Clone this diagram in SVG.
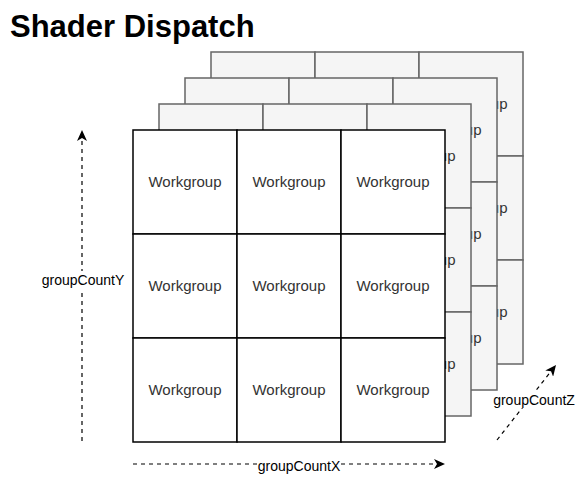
<svg xmlns="http://www.w3.org/2000/svg" width="577" height="503" viewBox="0 0 577 503">
  <style>
    .title { font-family: "Liberation Sans", Arial, sans-serif; font-size: 31px; font-weight: bold; fill: #000000; }
    .back rect { fill: #f5f5f5; stroke: #666666; stroke-width: 1.5; }
    .front rect { fill: #ffffff; stroke: #000000; stroke-width: 1.5; }
    .cell-label { font-family: "Liberation Sans", Arial, sans-serif; font-size: 15px; text-anchor: middle; fill: #333333; }
    .axis { fill: none; stroke: #000000; stroke-width: 1.2; stroke-dasharray: 4 4; }
    .axis-label { font-family: "Liberation Sans", Arial, sans-serif; font-size: 14px; fill: #000000; text-anchor: middle; }
    .label-bg { fill: #ffffff; }
  </style>
  <defs>
    <marker id="arrow" markerUnits="userSpaceOnUse" markerWidth="12" markerHeight="10" refX="11" refY="5" orient="auto">
      <path d="M0,0 L11,5 L0,10 L3,5 Z" fill="#000000"/>
    </marker>
  </defs>

  <text class="title" x="10" y="37">Shader Dispatch</text>

  <!-- stacked 3x3 sheets of 104px workgroups, drawn back to front -->
  <g id="layer-z3" class="back">
    <rect x="211" y="52" width="104" height="104"/>
    <rect x="315" y="52" width="104" height="104"/>
    <rect x="419" y="52" width="104" height="104"/>
    <rect x="211" y="156" width="104" height="104"/>
    <rect x="315" y="156" width="104" height="104"/>
    <rect x="419" y="156" width="104" height="104"/>
    <rect x="211" y="260" width="104" height="104"/>
    <rect x="315" y="260" width="104" height="104"/>
    <rect x="419" y="260" width="104" height="104"/>
    <text class="cell-label" x="263" y="109">Workgroup</text>
    <text class="cell-label" x="367" y="109">Workgroup</text>
    <text class="cell-label" x="471" y="109">Workgroup</text>
    <text class="cell-label" x="263" y="213">Workgroup</text>
    <text class="cell-label" x="367" y="213">Workgroup</text>
    <text class="cell-label" x="471" y="213">Workgroup</text>
    <text class="cell-label" x="263" y="317">Workgroup</text>
    <text class="cell-label" x="367" y="317">Workgroup</text>
    <text class="cell-label" x="471" y="317">Workgroup</text>
  </g>
  <g id="layer-z2" class="back">
    <rect x="185" y="78" width="104" height="104"/>
    <rect x="289" y="78" width="104" height="104"/>
    <rect x="393" y="78" width="104" height="104"/>
    <rect x="185" y="182" width="104" height="104"/>
    <rect x="289" y="182" width="104" height="104"/>
    <rect x="393" y="182" width="104" height="104"/>
    <rect x="185" y="286" width="104" height="104"/>
    <rect x="289" y="286" width="104" height="104"/>
    <rect x="393" y="286" width="104" height="104"/>
    <text class="cell-label" x="237" y="135">Workgroup</text>
    <text class="cell-label" x="341" y="135">Workgroup</text>
    <text class="cell-label" x="445" y="135">Workgroup</text>
    <text class="cell-label" x="237" y="239">Workgroup</text>
    <text class="cell-label" x="341" y="239">Workgroup</text>
    <text class="cell-label" x="445" y="239">Workgroup</text>
    <text class="cell-label" x="237" y="343">Workgroup</text>
    <text class="cell-label" x="341" y="343">Workgroup</text>
    <text class="cell-label" x="445" y="343">Workgroup</text>
  </g>
  <g id="layer-z1" class="back">
    <rect x="159" y="104" width="104" height="104"/>
    <rect x="263" y="104" width="104" height="104"/>
    <rect x="367" y="104" width="104" height="104"/>
    <rect x="159" y="208" width="104" height="104"/>
    <rect x="263" y="208" width="104" height="104"/>
    <rect x="367" y="208" width="104" height="104"/>
    <rect x="159" y="312" width="104" height="104"/>
    <rect x="263" y="312" width="104" height="104"/>
    <rect x="367" y="312" width="104" height="104"/>
    <text class="cell-label" x="211" y="161">Workgroup</text>
    <text class="cell-label" x="315" y="161">Workgroup</text>
    <text class="cell-label" x="419" y="161">Workgroup</text>
    <text class="cell-label" x="211" y="265">Workgroup</text>
    <text class="cell-label" x="315" y="265">Workgroup</text>
    <text class="cell-label" x="419" y="265">Workgroup</text>
    <text class="cell-label" x="211" y="369">Workgroup</text>
    <text class="cell-label" x="315" y="369">Workgroup</text>
    <text class="cell-label" x="419" y="369">Workgroup</text>
  </g>
  <g id="layer-z0" class="front">
    <rect x="133" y="130" width="104" height="104"/>
    <rect x="237" y="130" width="104" height="104"/>
    <rect x="341" y="130" width="104" height="104"/>
    <rect x="133" y="234" width="104" height="104"/>
    <rect x="237" y="234" width="104" height="104"/>
    <rect x="341" y="234" width="104" height="104"/>
    <rect x="133" y="338" width="104" height="104"/>
    <rect x="237" y="338" width="104" height="104"/>
    <rect x="341" y="338" width="104" height="104"/>
    <text class="cell-label" x="185" y="187">Workgroup</text>
    <text class="cell-label" x="289" y="187">Workgroup</text>
    <text class="cell-label" x="393" y="187">Workgroup</text>
    <text class="cell-label" x="185" y="291">Workgroup</text>
    <text class="cell-label" x="289" y="291">Workgroup</text>
    <text class="cell-label" x="393" y="291">Workgroup</text>
    <text class="cell-label" x="185" y="395">Workgroup</text>
    <text class="cell-label" x="289" y="395">Workgroup</text>
    <text class="cell-label" x="393" y="395">Workgroup</text>
  </g>

  <!-- dispatch axes -->
  <g id="connectors">
    <g id="axis-y">
      <line class="axis" x1="82" y1="441" x2="82" y2="130" marker-end="url(#arrow)"/>
      <rect class="label-bg" x="42" y="271" width="82" height="18"/>
      <text class="axis-label" x="83" y="285">groupCountY</text>
    </g>
    <g id="axis-x">
      <line class="axis" x1="133" y1="464" x2="445" y2="464" marker-end="url(#arrow)"/>
      <rect class="label-bg" x="257" y="458" width="84" height="17"/>
      <text class="axis-label" x="299" y="471">groupCountX</text>
    </g>
    <g id="axis-z">
      <line class="axis" x1="497" y1="440" x2="556" y2="365" marker-end="url(#arrow)"/>
      <rect class="label-bg" x="492" y="391" width="84" height="17"/>
      <text class="axis-label" x="534" y="405">groupCountZ</text>
    </g>
  </g>
</svg>
